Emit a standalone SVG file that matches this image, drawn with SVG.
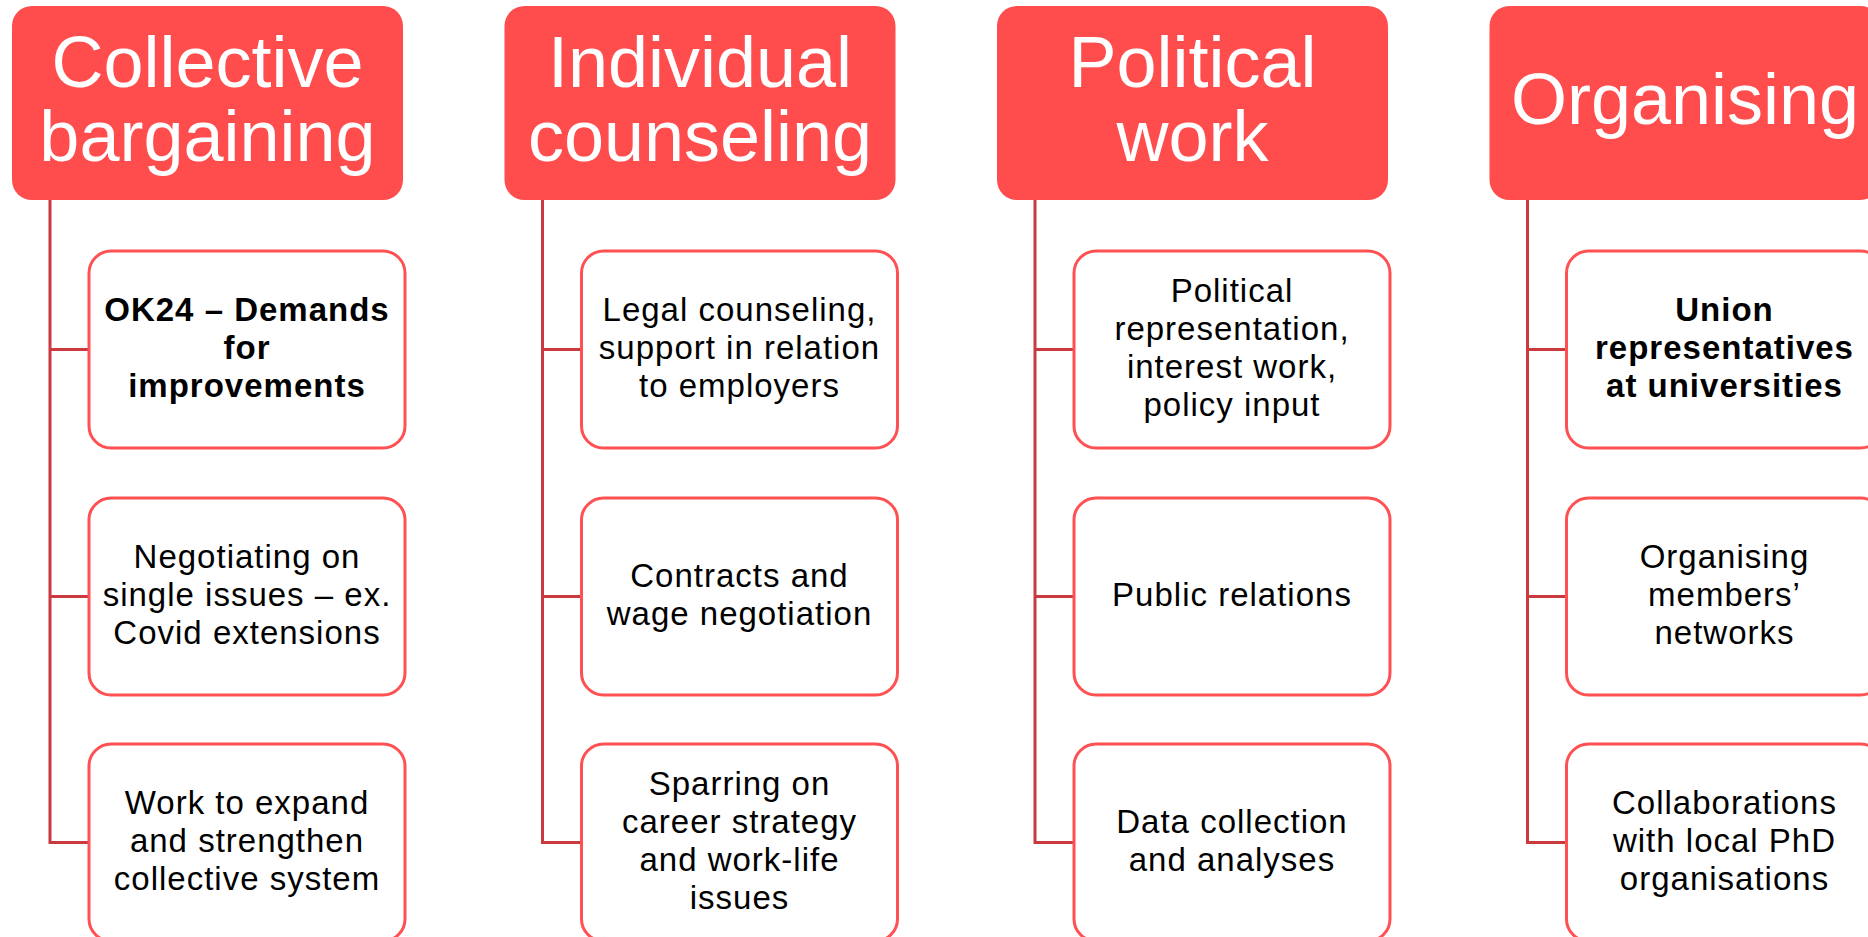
<svg xmlns="http://www.w3.org/2000/svg" width="1868" height="937" viewBox="0 0 1868 937">
<style>
.hdr{fill:#FF4C4D;}
.box{fill:#FFFFFF;stroke:#FF5052;stroke-width:3;}
.con{fill:none;stroke:#C9393E;stroke-width:3;}
.ht{font-family:"Liberation Sans",Arial,sans-serif;font-size:72px;fill:#FFFFFF;text-anchor:middle;}
.bt{font-family:"Liberation Sans",Arial,sans-serif;font-size:33px;letter-spacing:1px;fill:#000000;text-anchor:middle;}
.b{font-weight:bold;}
</style>
<rect width="1868" height="937" fill="#FFFFFF"/>
<g id="connectors">
  <g transform="translate(0,0)"><path class="con" d="M50,200 V842.5 H89 M50,349.5 H89 M50,596.5 H89"/></g>
  <g transform="translate(492.5,0)"><path class="con" d="M50,200 V842.5 H89 M50,349.5 H89 M50,596.5 H89"/></g>
  <g transform="translate(985,0)"><path class="con" d="M50,200 V842.5 H89 M50,349.5 H89 M50,596.5 H89"/></g>
  <g transform="translate(1477.5,0)"><path class="con" d="M50,200 V842.5 H89 M50,349.5 H89 M50,596.5 H89"/></g>
</g>
<!-- Column 1 -->
<g id="h1"><rect class="hdr" x="12" y="6" width="391" height="194" rx="20"/><text class="ht" x="207.5" y="87">Collective</text><text class="ht" x="207.5" y="161">bargaining</text></g>
<g id="c1a"><rect class="box" x="89" y="251" width="316" height="197" rx="22"/><text class="bt b" x="247" y="320.5">OK24 – Demands</text><text class="bt b" x="247" y="358.5">for</text><text class="bt b" x="247" y="396.5">improvements</text></g>
<g id="c1b"><rect class="box" x="89" y="498" width="316" height="197" rx="22"/><text class="bt" x="247" y="567.5">Negotiating on</text><text class="bt" x="247" y="605.5">single issues – ex.</text><text class="bt" x="247" y="643.5">Covid extensions</text></g>
<g id="c1c"><rect class="box" x="89" y="744" width="316" height="197" rx="22"/><text class="bt" x="247" y="813.5">Work to expand</text><text class="bt" x="247" y="851.5">and strengthen</text><text class="bt" x="247" y="889.5">collective system</text></g>
<!-- Column 2 -->
<g id="h2"><rect class="hdr" x="504.5" y="6" width="391" height="194" rx="20"/><text class="ht" x="700" y="87">Individual</text><text class="ht" x="700" y="161">counseling</text></g>
<g id="c2a"><rect class="box" x="581.5" y="251" width="316" height="197" rx="22"/><text class="bt" x="739.5" y="320.5">Legal counseling,</text><text class="bt" x="739.5" y="358.5">support in relation</text><text class="bt" x="739.5" y="396.5">to employers</text></g>
<g id="c2b"><rect class="box" x="581.5" y="498" width="316" height="197" rx="22"/><text class="bt" x="739.5" y="586.5">Contracts and</text><text class="bt" x="739.5" y="624.5">wage negotiation</text></g>
<g id="c2c"><rect class="box" x="581.5" y="744" width="316" height="197" rx="22"/><text class="bt" x="739.5" y="794.5">Sparring on</text><text class="bt" x="739.5" y="832.5">career strategy</text><text class="bt" x="739.5" y="870.5">and work-life</text><text class="bt" x="739.5" y="908.5">issues</text></g>
<!-- Column 3 -->
<g id="h3"><rect class="hdr" x="997" y="6" width="391" height="194" rx="20"/><text class="ht" x="1192.5" y="87">Political</text><text class="ht" x="1192.5" y="161">work</text></g>
<g id="c3a"><rect class="box" x="1074" y="251" width="316" height="197" rx="22"/><text class="bt" x="1232" y="301.5">Political</text><text class="bt" x="1232" y="339.5">representation,</text><text class="bt" x="1232" y="377.5">interest work,</text><text class="bt" x="1232" y="415.5">policy input</text></g>
<g id="c3b"><rect class="box" x="1074" y="498" width="316" height="197" rx="22"/><text class="bt" x="1232" y="605.5">Public relations</text></g>
<g id="c3c"><rect class="box" x="1074" y="744" width="316" height="197" rx="22"/><text class="bt" x="1232" y="832.5">Data collection</text><text class="bt" x="1232" y="870.5">and analyses</text></g>
<!-- Column 4 -->
<g id="h4"><rect class="hdr" x="1489.5" y="6" width="391" height="194" rx="20"/><text class="ht" x="1685" y="124">Organising</text></g>
<g id="c4a"><rect class="box" x="1566.5" y="251" width="316" height="197" rx="22"/><text class="bt b" x="1724.5" y="320.5">Union</text><text class="bt b" x="1724.5" y="358.5">representatives</text><text class="bt b" x="1724.5" y="396.5">at universities</text></g>
<g id="c4b"><rect class="box" x="1566.5" y="498" width="316" height="197" rx="22"/><text class="bt" x="1724.5" y="567.5">Organising</text><text class="bt" x="1724.5" y="605.5">members’</text><text class="bt" x="1724.5" y="643.5">networks</text></g>
<g id="c4c"><rect class="box" x="1566.5" y="744" width="316" height="197" rx="22"/><text class="bt" x="1724.5" y="813.5">Collaborations</text><text class="bt" x="1724.5" y="851.5">with local PhD</text><text class="bt" x="1724.5" y="889.5">organisations</text></g>
</svg>
